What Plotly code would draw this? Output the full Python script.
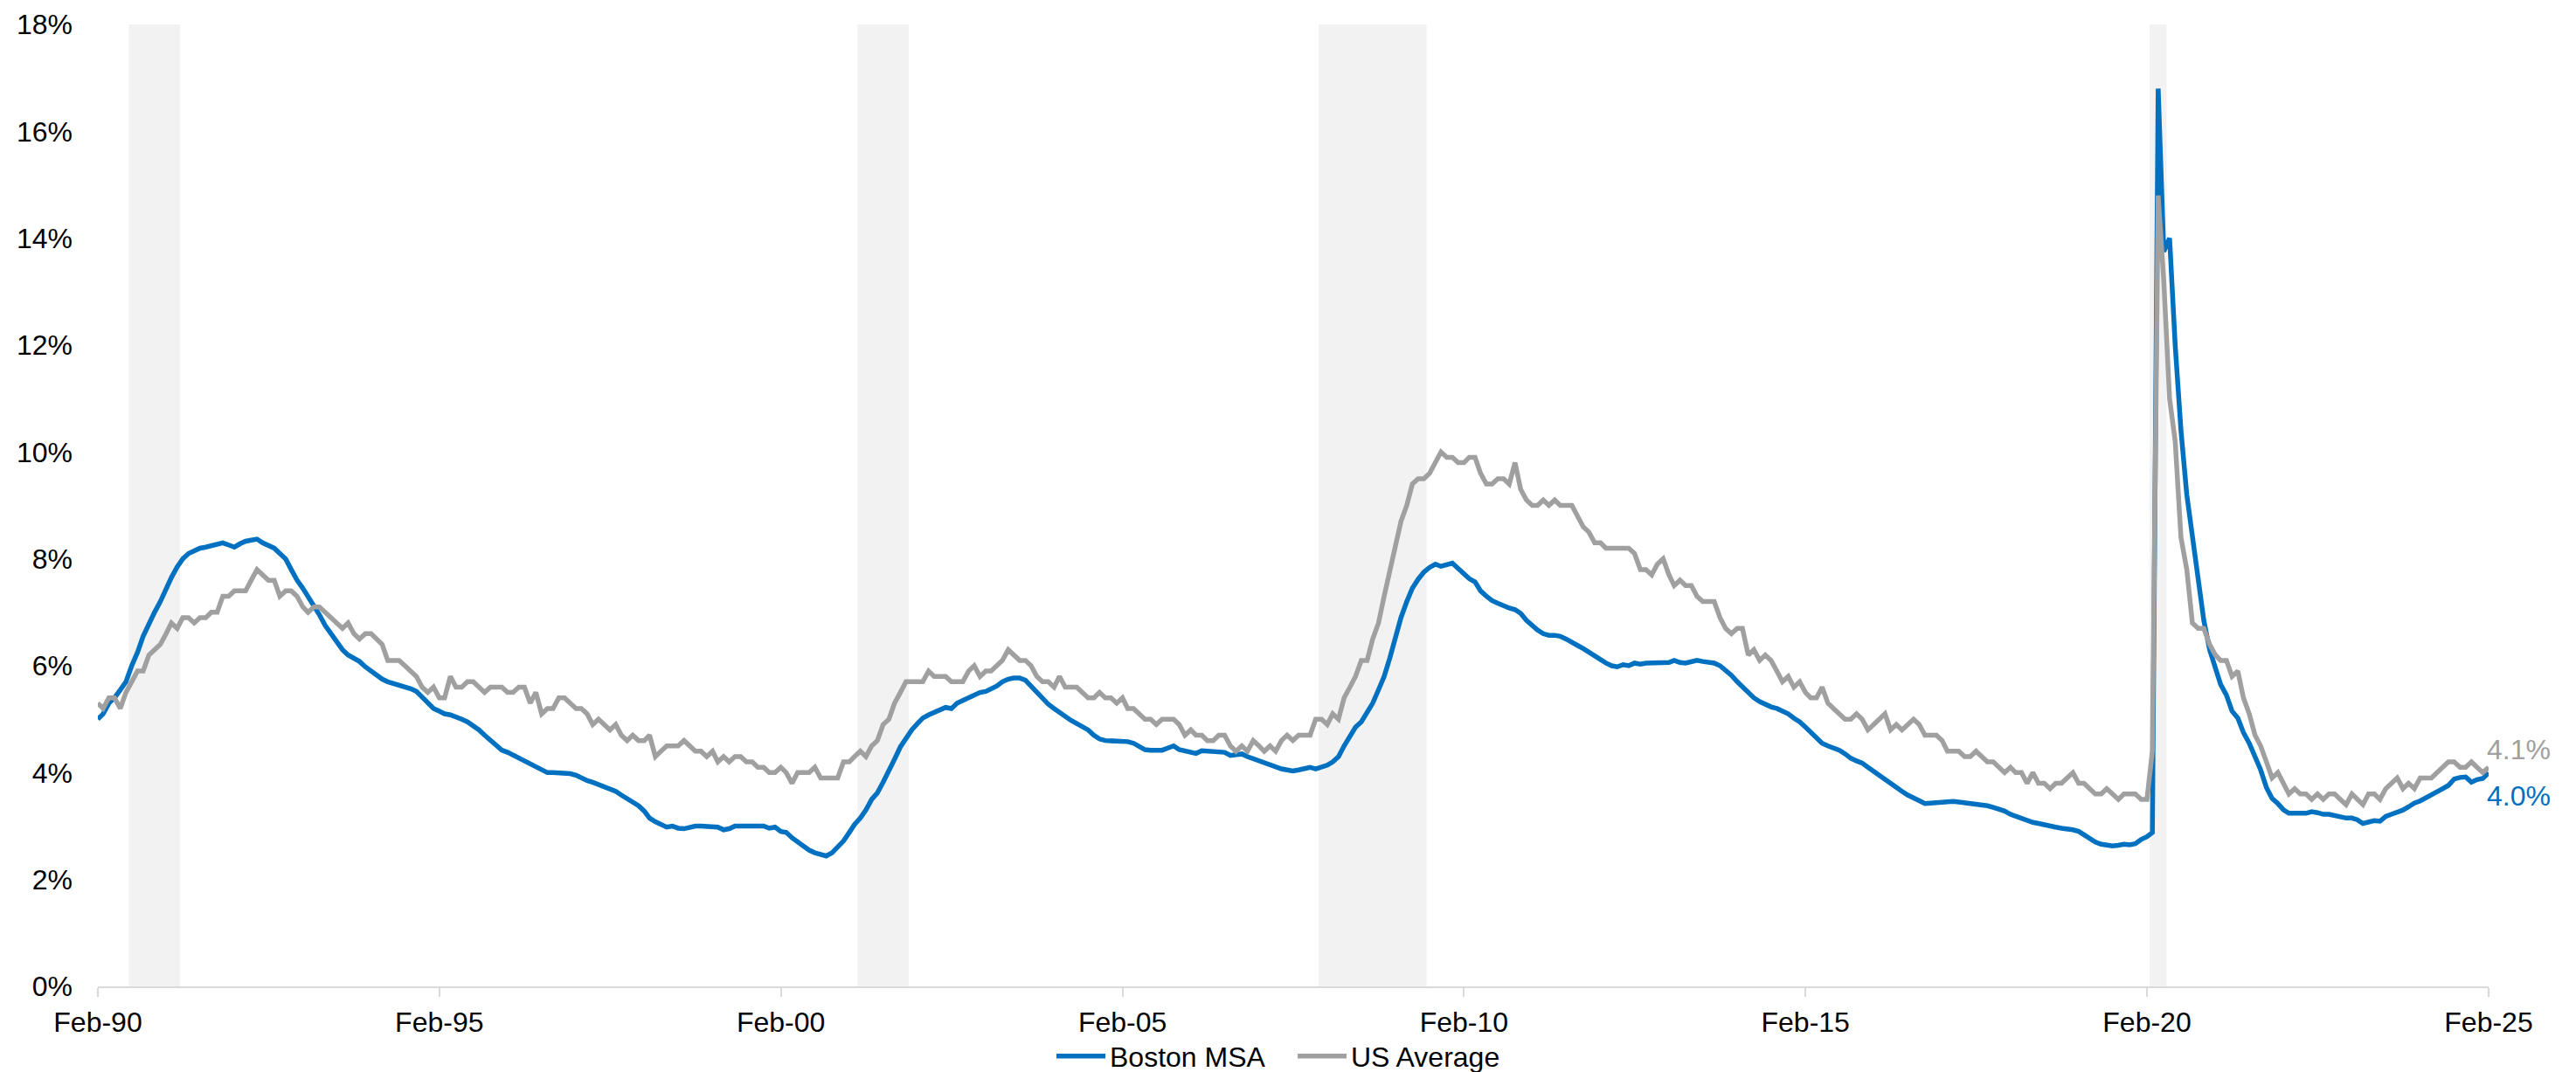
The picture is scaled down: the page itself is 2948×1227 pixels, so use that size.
import pandas as pd
import plotly.graph_objects as go

# Monthly unemployment rate (%), Feb-1990 through Feb-2025
months = pd.date_range("1990-02-01", "2025-02-01", freq="MS")

boston_msa = [
    5.0, 5.1, 5.3, 5.4, 5.55, 5.7, 6.0, 6.25, 6.55, 6.8, 7.0,                     # 1990 Feb-Dec
    7.2, 7.45, 7.65, 7.85, 8.0, 8.1, 8.15, 8.2, 8.22, 8.25, 8.27, 8.3,            # 1991
    8.26, 8.22, 8.28, 8.33, 8.35, 8.37, 8.3, 8.25, 8.2, 8.1, 8.0, 7.8,            # 1992
    7.6, 7.45, 7.3, 7.15, 6.95, 6.75, 6.6, 6.45, 6.3, 6.2, 6.15, 6.08,            # 1993
    5.98, 5.9, 5.83, 5.75, 5.7, 5.67, 5.63, 5.6, 5.57, 5.52, 5.42, 5.3,           # 1994
    5.2, 5.15, 5.1, 5.08, 5.05, 5.0, 4.95, 4.88, 4.8, 4.7, 4.6, 4.5,              # 1995
    4.42, 4.38, 4.33, 4.28, 4.22, 4.15, 4.1, 4.05, 4.0, 4.0, 4.0, 4.0,            # 1996
    3.98, 3.95, 3.9, 3.85, 3.82, 3.78, 3.75, 3.7, 3.65, 3.58, 3.52, 3.45,         # 1997
    3.38, 3.28, 3.15, 3.08, 3.02, 2.98, 3.0, 2.96, 2.95, 2.98, 3.0, 3.0,          # 1998
    3.0, 3.0, 2.98, 2.93, 2.95, 3.0, 3.0, 3.0, 3.0, 2.98, 3.0, 2.96,              # 1999
    2.98, 2.9, 2.88, 2.78, 2.7, 2.62, 2.55, 2.5, 2.47, 2.44, 2.5, 2.6,            # 2000
    2.72, 2.88, 3.03, 3.15, 3.3, 3.5, 3.62, 3.82, 4.02, 4.25, 4.48, 4.65,         # 2001
    4.8, 4.92, 5.02, 5.08, 5.12, 5.17, 5.22, 5.2, 5.3, 5.35, 5.4, 5.45,           # 2002
    5.5, 5.52, 5.57, 5.62, 5.7, 5.75, 5.77, 5.77, 5.73, 5.62, 5.5, 5.38,          # 2003
    5.28, 5.2, 5.12, 5.06, 4.98, 4.92, 4.86, 4.8, 4.7, 4.63, 4.6, 4.6,            # 2004
    4.58, 4.58, 4.58, 4.55, 4.5, 4.43, 4.42, 4.42, 4.42, 4.46, 4.5, 4.43,         # 2005
    4.4, 4.38, 4.36, 4.41, 4.4, 4.39, 4.39, 4.38, 4.32, 4.33, 4.35, 4.3,          # 2006
    4.26, 4.21, 4.17, 4.14, 4.1, 4.07, 4.05, 4.03, 4.05, 4.08, 4.1, 4.07,         # 2007
    4.1, 4.14, 4.2, 4.3, 4.5, 4.68, 4.85, 4.95, 5.15, 5.3, 5.55, 5.8,             # 2008
    6.15, 6.55, 6.9, 7.2, 7.45, 7.62, 7.75, 7.84, 7.9, 7.86, 7.9, 7.92,           # 2009
    7.82, 7.72, 7.63, 7.57, 7.4, 7.3, 7.22, 7.17, 7.12, 7.08, 7.05, 6.98,         # 2010
    6.85, 6.75, 6.67, 6.6, 6.57, 6.57, 6.55, 6.5, 6.43, 6.38, 6.32, 6.25,         # 2011
    6.18, 6.12, 6.05, 6.0, 5.98, 6.02, 6.0, 6.05, 6.03, 6.05, 6.05, 6.07,         # 2012
    6.05, 6.06, 6.1, 6.06, 6.05, 6.08, 6.1, 6.08, 6.07, 6.05, 6.0, 5.92,          # 2013
    5.82, 5.7, 5.6, 5.5, 5.4, 5.33, 5.27, 5.23, 5.2, 5.15, 5.1, 5.02,             # 2014
    4.95, 4.85, 4.75, 4.65, 4.55, 4.5, 4.46, 4.42, 4.35, 4.27, 4.22, 4.18,        # 2015
    4.1, 4.02, 3.95, 3.88, 3.8, 3.72, 3.65, 3.58, 3.52, 3.46, 3.42, 3.43,         # 2016
    3.44, 3.45, 3.45, 3.46, 3.45, 3.44, 3.43, 3.42, 3.4, 3.38, 3.35, 3.32,        # 2017
    3.28, 3.22, 3.18, 3.15, 3.1, 3.07, 3.05, 3.02, 3.0, 2.98, 2.96, 2.95,         # 2018
    2.93, 2.9, 2.83, 2.76, 2.7, 2.66, 2.64, 2.63, 2.64, 2.66, 2.65, 2.67,         # 2019
    2.75, 2.8, 2.88, 16.8, 13.75, 14.0, 12.0, 10.4, 9.2, 8.4, 7.5, 6.85,          # 2020
    6.3, 5.95, 5.65, 5.45, 5.15, 5.02, 4.75, 4.55, 4.32, 4.05, 3.72, 3.52,        # 2021
    3.42, 3.3, 3.24, 3.23, 3.24, 3.24, 3.27, 3.25, 3.22, 3.22, 3.2, 3.16,         # 2022
    3.15, 3.15, 3.12, 3.05, 3.08, 3.1, 3.09, 3.18, 3.22, 3.25, 3.3, 3.36,         # 2023
    3.43, 3.47, 3.52, 3.57, 3.63, 3.7, 3.76, 3.88, 3.91, 3.92, 3.82, 3.87,        # 2024
    3.89, 4.0,                                                                     # 2025 Jan-Feb
]

us_average = [
    5.3, 5.2, 5.4, 5.4, 5.2, 5.5, 5.7, 5.9, 5.9, 6.2, 6.3,                        # 1990 Feb-Dec
    6.4, 6.6, 6.8, 6.7, 6.9, 6.9, 6.8, 6.9, 6.9, 7.0, 7.0, 7.3,                   # 1991
    7.3, 7.4, 7.4, 7.4, 7.6, 7.8, 7.7, 7.6, 7.6, 7.3, 7.4, 7.4,                   # 1992
    7.3, 7.1, 7.0, 7.1, 7.1, 7.0, 6.9, 6.8, 6.7, 6.8, 6.6, 6.5,                   # 1993
    6.6, 6.6, 6.5, 6.4, 6.1, 6.1, 6.1, 6.0, 5.9, 5.8, 5.6, 5.5,                   # 1994
    5.6, 5.4, 5.4, 5.8, 5.6, 5.6, 5.7, 5.7, 5.6, 5.5, 5.6, 5.6,                   # 1995
    5.6, 5.5, 5.5, 5.6, 5.6, 5.3, 5.5, 5.1, 5.2, 5.2, 5.4, 5.4,                   # 1996
    5.3, 5.2, 5.2, 5.1, 4.9, 5.0, 4.9, 4.8, 4.9, 4.7, 4.6, 4.7,                   # 1997
    4.6, 4.6, 4.7, 4.3, 4.4, 4.5, 4.5, 4.5, 4.6, 4.5, 4.4, 4.4,                   # 1998
    4.3, 4.4, 4.2, 4.3, 4.2, 4.3, 4.3, 4.2, 4.2, 4.1, 4.1, 4.0,                   # 1999
    4.0, 4.1, 4.0, 3.8, 4.0, 4.0, 4.0, 4.1, 3.9, 3.9, 3.9, 3.9,                   # 2000
    4.2, 4.2, 4.3, 4.4, 4.3, 4.5, 4.6, 4.9, 5.0, 5.3, 5.5, 5.7,                   # 2001
    5.7, 5.7, 5.7, 5.9, 5.8, 5.8, 5.8, 5.7, 5.7, 5.7, 5.9, 6.0,                   # 2002
    5.8, 5.9, 5.9, 6.0, 6.1, 6.3, 6.2, 6.1, 6.1, 6.0, 5.8, 5.7,                   # 2003
    5.7, 5.6, 5.8, 5.6, 5.6, 5.6, 5.5, 5.4, 5.4, 5.5, 5.4, 5.4,                   # 2004
    5.3, 5.4, 5.2, 5.2, 5.1, 5.0, 5.0, 4.9, 5.0, 5.0, 5.0, 4.9,                   # 2005
    4.7, 4.8, 4.7, 4.7, 4.6, 4.6, 4.7, 4.7, 4.5, 4.4, 4.5, 4.4,                   # 2006
    4.6, 4.5, 4.4, 4.5, 4.4, 4.6, 4.7, 4.6, 4.7, 4.7, 4.7, 5.0,                   # 2007
    5.0, 4.9, 5.1, 5.0, 5.4, 5.6, 5.8, 6.1, 6.1, 6.5, 6.8, 7.3,                   # 2008
    7.8, 8.3, 8.7, 9.0, 9.4, 9.5, 9.5, 9.6, 9.8, 10.0, 9.9, 9.9,                  # 2009
    9.8, 9.8, 9.9, 9.9, 9.6, 9.4, 9.4, 9.5, 9.5, 9.4, 9.8, 9.3,                   # 2010
    9.1, 9.0, 9.0, 9.1, 9.0, 9.1, 9.0, 9.0, 9.0, 8.8, 8.6, 8.5,                   # 2011
    8.3, 8.3, 8.2, 8.2, 8.2, 8.2, 8.2, 8.1, 7.8, 7.8, 7.7, 7.9,                   # 2012
    8.0, 7.7, 7.5, 7.6, 7.5, 7.5, 7.3, 7.2, 7.2, 7.2, 6.9, 6.7,                   # 2013
    6.6, 6.7, 6.7, 6.2, 6.3, 6.1, 6.2, 6.1, 5.9, 5.7, 5.8, 5.6,                   # 2014
    5.7, 5.5, 5.4, 5.4, 5.6, 5.3, 5.2, 5.1, 5.0, 5.0, 5.1, 5.0,                   # 2015
    4.8, 4.9, 5.0, 5.1, 4.8, 4.9, 4.8, 4.9, 5.0, 4.9, 4.7, 4.7,                   # 2016
    4.7, 4.6, 4.4, 4.4, 4.4, 4.3, 4.3, 4.4, 4.3, 4.2, 4.2, 4.1,                   # 2017
    4.0, 4.1, 4.0, 4.0, 3.8, 4.0, 3.8, 3.8, 3.7, 3.8, 3.8, 3.9,                   # 2018
    4.0, 3.8, 3.8, 3.7, 3.6, 3.6, 3.7, 3.6, 3.5, 3.6, 3.6, 3.6,                   # 2019
    3.5, 3.5, 4.4, 14.8, 13.2, 11.0, 10.2, 8.4, 7.8, 6.8, 6.7, 6.7,               # 2020
    6.4, 6.2, 6.1, 6.1, 5.8, 5.9, 5.4, 5.1, 4.7, 4.5, 4.2, 3.9,                   # 2021
    4.0, 3.8, 3.6, 3.7, 3.6, 3.6, 3.5, 3.6, 3.5, 3.6, 3.6, 3.5,                   # 2022
    3.4, 3.6, 3.5, 3.4, 3.6, 3.6, 3.5, 3.7, 3.8, 3.9, 3.7, 3.8,                   # 2023
    3.7, 3.9, 3.9, 3.9, 4.0, 4.1, 4.2, 4.2, 4.1, 4.1, 4.2, 4.1,                   # 2024
    4.0, 4.1,                                                                      # 2025 Jan-Feb
]

# First and last month of each shaded recession band
band_first = ["1990-08-01", "2001-04-01", "2008-01-01", "2020-03-01"]
band_last = ["1991-04-01", "2001-12-01", "2009-07-01", "2020-05-01"]

# Axis ticks
x_tick_dates = ["1990-02-01", "1995-02-01", "2000-02-01", "2005-02-01",
                "2010-02-01", "2015-02-01", "2020-02-01", "2025-02-01"]
x_tick_labels = ["Feb-90", "Feb-95", "Feb-00", "Feb-05",
                 "Feb-10", "Feb-15", "Feb-20", "Feb-25"]
y_tick_values = [0, 2, 4, 6, 8, 10, 12, 14, 16, 18]
y_tick_labels = ["0%", "2%", "4%", "6%", "8%", "10%", "12%", "14%", "16%", "18%"]

BLUE = "#0070C0"
GREY = "#A0A0A0"
FONT = "Liberation Sans, Arial, sans-serif"
FONT_SIZE = 32

fig = go.Figure()

fig.add_trace(go.Scatter(
    x=months, y=boston_msa, name="Boston MSA", mode="lines",
    line=dict(color=BLUE, width=5.5), cliponaxis=False,
))
fig.add_trace(go.Scatter(
    x=months, y=us_average, name="US Average", mode="lines",
    line=dict(color=GREY, width=5.5), cliponaxis=False,
))

# Recession shading, each band covering whole months
half_month = pd.Timedelta(days=15)
for first, last in zip(band_first, band_last):
    fig.add_shape(
        type="rect", xref="x", yref="y",
        x0=pd.Timestamp(first) - half_month,
        x1=pd.Timestamp(last) + half_month,
        y0=0, y1=y_tick_values[-1],
        fillcolor="#F2F2F2", line=dict(width=0), layer="below",
    )

# Latest values labelled at the end of each line
fig.add_annotation(
    x=months[-1], y=us_average[-1], text=f"{us_average[-1]:.1f}%",
    showarrow=False, xanchor="left", yanchor="middle", xshift=-4, yshift=20,
    font=dict(family=FONT, size=FONT_SIZE, color=GREY),
)
fig.add_annotation(
    x=months[-1], y=boston_msa[-1], text=f"{boston_msa[-1]:.1f}%",
    showarrow=False, xanchor="left", yanchor="middle", xshift=-4, yshift=-27,
    font=dict(family=FONT, size=FONT_SIZE, color=BLUE),
)

fig.update_layout(
    width=2948, height=1227,
    margin=dict(l=112, r=100, t=28, b=98, autoexpand=False),
    plot_bgcolor="white", paper_bgcolor="white",
    font=dict(family=FONT, size=FONT_SIZE, color="black"),
    showlegend=True,
    legend=dict(
        orientation="h", xref="paper", x=0.5, xanchor="center",
        yref="container", y=0.0147, yanchor="middle",
        font=dict(family=FONT, size=FONT_SIZE, color="black"),
        itemwidth=56, bgcolor="rgba(0,0,0,0)",
        entrywidth=205,
    ),
    xaxis=dict(
        type="date", automargin=False,
        range=[months[0], months[-1]],
        tickvals=x_tick_dates, ticktext=x_tick_labels,
        showgrid=False, zeroline=False,
        showline=True, linecolor="#D9D9D9", linewidth=2,
        ticks="outside", ticklen=10, tickwidth=2, tickcolor="#D9D9D9",
        ticklabelstandoff=2,
        tickfont=dict(family=FONT, size=FONT_SIZE, color="black"),
    ),
    yaxis=dict(
        range=[0, 18], automargin=False,
        tickvals=y_tick_values, ticktext=y_tick_labels,
        showgrid=False, zeroline=False, showline=False, ticks="",
        ticklabelstandoff=28,
        tickfont=dict(family=FONT, size=FONT_SIZE, color="black"),
    ),
)

fig.write_html("out.html")
